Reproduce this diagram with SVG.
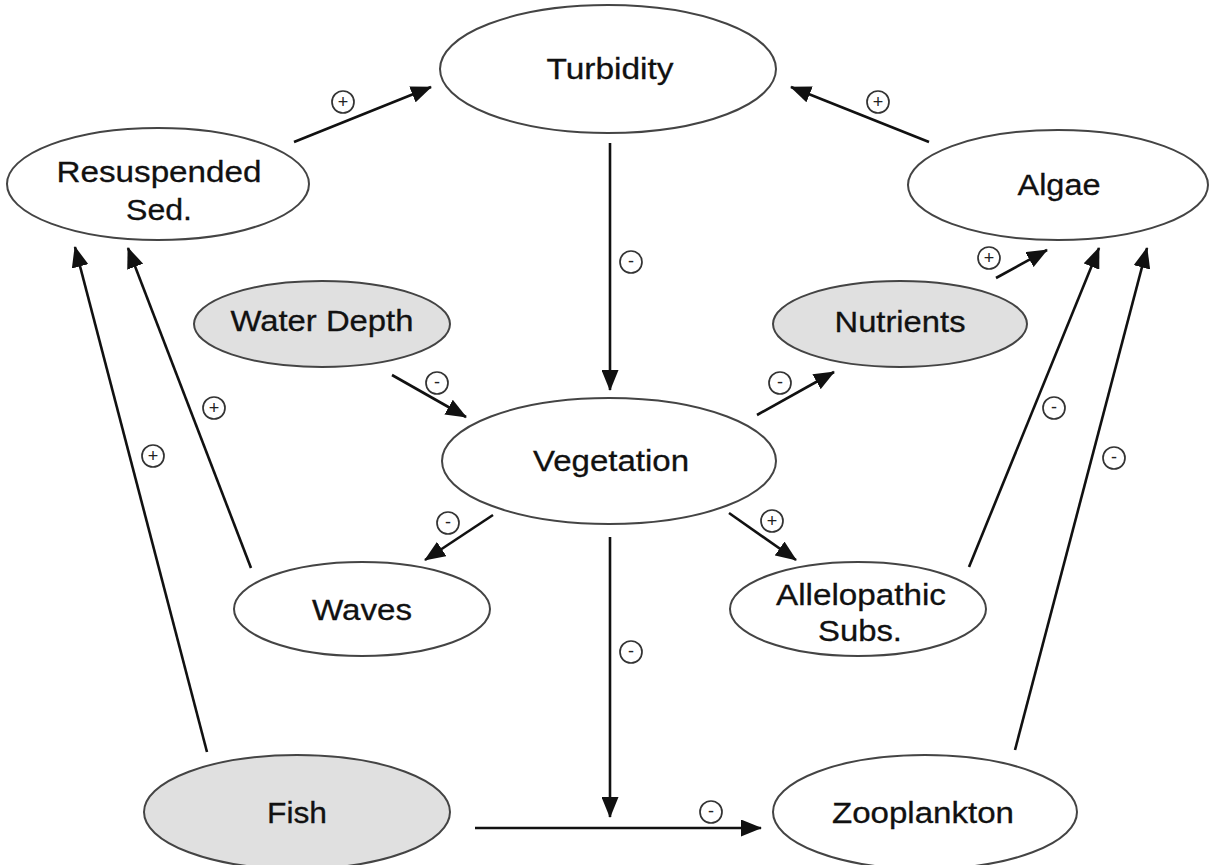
<svg xmlns="http://www.w3.org/2000/svg" width="1212" height="865" viewBox="0 0 1212 865">
<style>
.n ellipse{fill:#fff;stroke:#444;stroke-width:2}
.g ellipse{fill:#e0e0e0}
.n text{font-family:"Liberation Sans",Arial,sans-serif;font-size:30px;fill:#111;text-anchor:middle;stroke:#111;stroke-width:0.3}
.c line{stroke:#111;stroke-width:2.6;marker-end:url(#ah)}
.s circle{fill:#fff;stroke:#333;stroke-width:1.7}
.s text{font-family:"Liberation Sans",Arial,sans-serif;font-size:18px;fill:#222;text-anchor:middle}
</style>
<defs>
<marker id="ah" markerUnits="userSpaceOnUse" markerWidth="21" markerHeight="17" refX="20" refY="8.5" orient="auto">
<path d="M0,0 L21,8.5 L0,17 z" fill="#111"/>
</marker>
</defs>
<rect width="1212" height="865" fill="#fff"/>

<g id="turbidity" class="n"><ellipse cx="608" cy="69" rx="168" ry="64"/><text x="610" y="79" textLength="127" lengthAdjust="spacingAndGlyphs">Turbidity</text></g>
<g id="resuspended" class="n"><ellipse cx="158" cy="184" rx="151" ry="56"/><text x="159" y="182" textLength="205" lengthAdjust="spacingAndGlyphs">Resuspended</text><text x="159" y="220" textLength="66" lengthAdjust="spacingAndGlyphs">Sed.</text></g>
<g id="algae" class="n"><ellipse cx="1058" cy="185" rx="150" ry="55"/><text x="1059" y="195" textLength="83" lengthAdjust="spacingAndGlyphs">Algae</text></g>
<g id="waterdepth" class="n g"><ellipse cx="322" cy="324" rx="128" ry="43"/><text x="322" y="331" textLength="183" lengthAdjust="spacingAndGlyphs">Water Depth</text></g>
<g id="nutrients" class="n g"><ellipse cx="900" cy="324" rx="127" ry="43"/><text x="900" y="332" textLength="131" lengthAdjust="spacingAndGlyphs">Nutrients</text></g>
<g id="vegetation" class="n"><ellipse cx="609" cy="461" rx="167" ry="63"/><text x="611" y="471" textLength="156" lengthAdjust="spacingAndGlyphs">Vegetation</text></g>
<g id="waves" class="n"><ellipse cx="362" cy="609" rx="128" ry="47"/><text x="362" y="620" textLength="100" lengthAdjust="spacingAndGlyphs">Waves</text></g>
<g id="allelopathic" class="n"><ellipse cx="858" cy="609" rx="128" ry="47"/><text x="861" y="605" textLength="170" lengthAdjust="spacingAndGlyphs">Allelopathic</text><text x="860" y="641" textLength="84" lengthAdjust="spacingAndGlyphs">Subs.</text></g>
<g id="fish" class="n g"><ellipse cx="297" cy="812" rx="153" ry="57"/><text x="297" y="823" textLength="60" lengthAdjust="spacingAndGlyphs">Fish</text></g>
<g id="zooplankton" class="n"><ellipse cx="925" cy="812" rx="152" ry="57"/><text x="923" y="823" textLength="182" lengthAdjust="spacingAndGlyphs">Zooplankton</text></g>

<g id="connectors" class="c">
<line x1="294" y1="142" x2="431" y2="87"/>
<line x1="929" y1="142" x2="791" y2="87"/>
<line x1="610" y1="143" x2="610" y2="390"/>
<line x1="392" y1="375" x2="466" y2="417"/>
<line x1="757" y1="415" x2="834" y2="372"/>
<line x1="996" y1="278" x2="1047" y2="250"/>
<line x1="969" y1="567" x2="1099" y2="248"/>
<line x1="1015" y1="750" x2="1147" y2="248"/>
<line x1="207" y1="752" x2="75" y2="247"/>
<line x1="251" y1="568" x2="128" y2="248"/>
<line x1="493" y1="515" x2="425" y2="560"/>
<line x1="729" y1="513" x2="796" y2="560"/>
<line x1="610" y1="537" x2="610" y2="817"/>
<line x1="475" y1="828" x2="761" y2="828"/>
</g>

<g id="signs" class="s">
<g><circle cx="343" cy="102" r="11"/><text x="343" y="108">+</text></g>
<g><circle cx="878" cy="102" r="11"/><text x="878" y="108">+</text></g>
<g><circle cx="631" cy="262" r="11"/><text x="631" y="267">-</text></g>
<g><circle cx="437" cy="383" r="11"/><text x="437" y="388">-</text></g>
<g><circle cx="780" cy="383" r="11"/><text x="780" y="388">-</text></g>
<g><circle cx="989" cy="258" r="11"/><text x="989" y="264">+</text></g>
<g><circle cx="1054" cy="408" r="11"/><text x="1054" y="413">-</text></g>
<g><circle cx="1114" cy="458" r="11"/><text x="1114" y="463">-</text></g>
<g><circle cx="153" cy="456" r="11"/><text x="153" y="462">+</text></g>
<g><circle cx="214" cy="408" r="11"/><text x="214" y="414">+</text></g>
<g><circle cx="448" cy="523" r="11"/><text x="448" y="528">-</text></g>
<g><circle cx="772" cy="521" r="11"/><text x="772" y="527">+</text></g>
<g><circle cx="631" cy="652" r="11"/><text x="631" y="657">-</text></g>
<g><circle cx="711" cy="812" r="11"/><text x="711" y="817">-</text></g>
</g>
</svg>
